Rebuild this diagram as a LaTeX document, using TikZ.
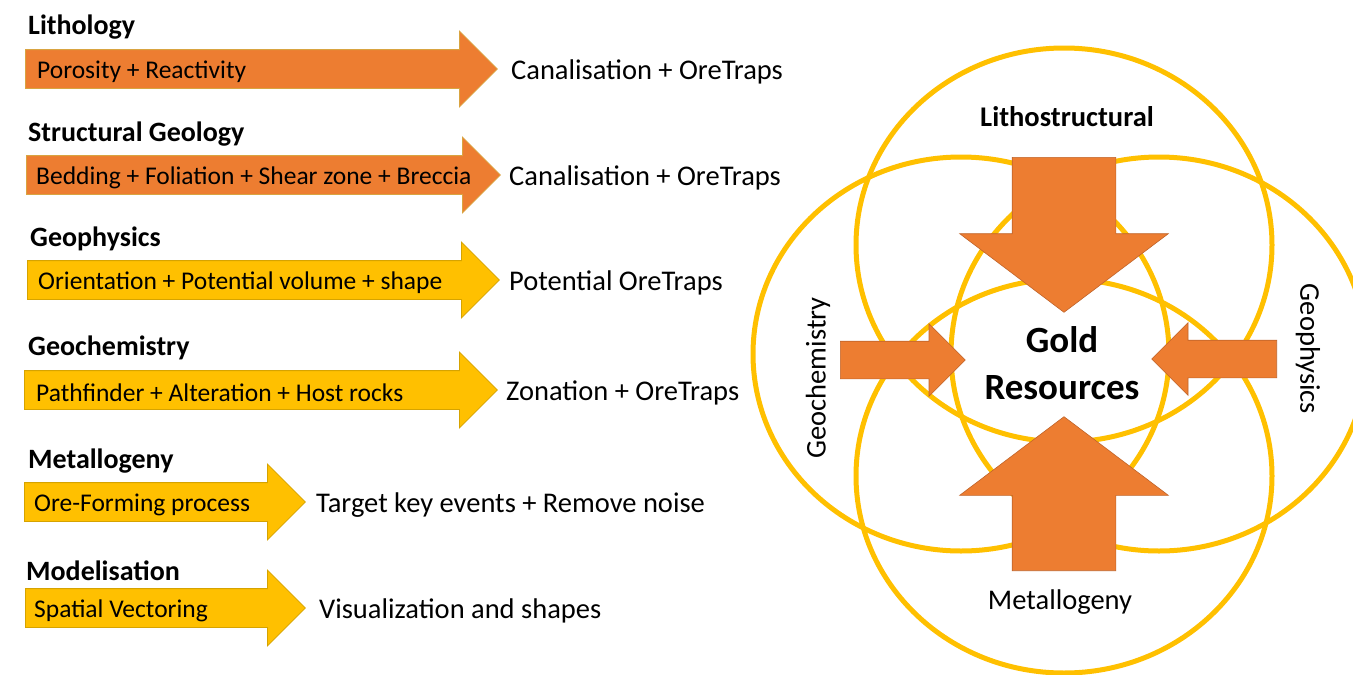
\documentclass[tikz,border=0pt]{standalone}
\usepackage{fontspec}
\setmainfont{Carlito}
\usetikzlibrary{positioning}
\usetikzlibrary{shapes.arrows}
\usetikzlibrary{shapes.geometric}

\definecolor{oreorange}{HTML}{ED7D31}
\definecolor{oregold}{HTML}{FFC000}
\definecolor{orangeline}{HTML}{D9A441}
\definecolor{goldline}{HTML}{D6A300}
\definecolor{bigline}{HTML}{C0642A}

\tikzset{
	ring/.style = {ellipse, draw = oregold, line width = 5pt, minimum width = 416pt, minimum height = 394pt, inner sep = 0pt},
	flowarrow/.style = {single arrow, inner sep = 19pt, single arrow head extend = 18.5pt, minimum width = 75pt, line width = 0.8pt, anchor = tail},
	orangearrow/.style = {flowarrow, fill = oreorange, draw = orangeline},
	goldarrow/.style = {flowarrow, fill = oregold, draw = goldline},
	bigarrow/.style = {single arrow, fill = oreorange, draw = bigline, line width = 0.6pt, anchor = tail},
	topic/.style = {anchor = west, inner sep = 0pt, font = \fontsize{28}{30}\selectfont\bfseries},
	inarrow/.style = {anchor = west, inner sep = 0pt, yshift = -3pt, font = \fontsize{25.5}{28}\selectfont},
	outcome/.style = {anchor = west, inner sep = 0pt, yshift = -3pt, font = \fontsize{28.5}{30}\selectfont},
	fieldlabel/.style = {inner sep = 0pt, font = \fontsize{28.5}{30}\selectfont}
}

\begin{document}
\begin{tikzpicture}[x = 1pt, y = -1pt]
	\fill [white] (0, 0) rectangle (1353, 675);
	\useasboundingbox (0, 0) rectangle (1353, 675);

	% left column
	\node [topic] (t1) at (28, 27) {Lithology};
	\node [orangearrow, minimum height = 472pt] (a1) at (25, 69) {};
	\node [inarrow, right = 12pt of a1.tail] (p1) {Porosity + Reactivity};
	\node [outcome, right = 13pt of a1.tip] (r1) {Canalisation + OreTraps};

	\node [topic] (t2) at (28, 134) {Structural Geology};
	\node [orangearrow, minimum height = 474pt] (a2) at (26, 175) {};
	\node [inarrow, right = 10pt of a2.tail] (p2) {Bedding + Foliation + Shear zone + Breccia};
	\node [outcome, right = 8pt of a2.tip] (r2) {Canalisation + OreTraps};

	\node [topic] (t3) at (30, 239) {Geophysics};
	\node [goldarrow, minimum height = 472pt] (a3) at (27, 280) {};
	\node [inarrow, right = 11pt of a3.tail] (p3) {Orientation + Potential volume + shape};
	\node [outcome, right = 9pt of a3.tip] (r3) {Potential OreTraps};

	\node [topic] (t4) at (28, 348) {Geochemistry};
	\node [goldarrow, minimum height = 473pt] (a4) at (24, 390) {};
	\node [inarrow, right = 12pt of a4.tail] (p4) {Pathfinder + Alteration + Host rocks};
	\node [outcome, right = 8pt of a4.tip] (r4) {Zonation + OreTraps};

	\node [topic] (t5) at (28, 461) {Metallogeny};
	\node [goldarrow, minimum height = 281pt] (a5) at (24, 502) {};
	\node [inarrow, right = 10pt of a5.tail] (p5) {Ore-Forming process};
	\node [outcome, right = 10pt of a5.tip] (r5) {Target key events + Remove noise};

	\node [topic] (t6) at (26, 571) {Modelisation};
	\node [goldarrow, minimum height = 280pt] (a6) at (25, 608) {};
	\node [inarrow, right = 9pt of a6.tail] (p6) {Spatial Vectoring};
	\node [outcome, right = 13pt of a6.tip] (r6) {Visualization and shapes};

	% right: four fields around the target
	\node [ring] (litho) at (1064, 245) {};
	\node [ring] (metal) at (1064, 476) {};
	\node [ring] (chem) at (961, 354) {};
	\node [ring] (phys) at (1159, 354) {};

	\node [bigarrow, inner sep = 51.5pt, shape border rotate = 270, minimum height = 155pt, minimum width = 208pt, single arrow head extend = 52.5pt, single arrow tip angle = 106] (down) at (1064, 157) {};
	\node [bigarrow, inner sep = 51.5pt, shape border rotate = 90, minimum height = 154pt, minimum width = 208pt, single arrow head extend = 52.5pt, single arrow tip angle = 106] (up) at (1064, 571) {};
	\node [bigarrow, inner sep = 18.5pt, minimum height = 125pt, minimum width = 72pt, single arrow head extend = 17.5pt] (east) at (840, 360) {};
	\node [bigarrow, inner sep = 18.5pt, shape border rotate = 180, minimum height = 125pt, minimum width = 72pt, single arrow head extend = 17.5pt] (west) at (1277, 359) {};

	\node [fieldlabel, font = \fontsize{28.5}{30}\selectfont\bfseries] (lithotext) at (1067, 117) {Lithostructural};
	\node [fieldlabel, rotate = 90] (chemtext) at (818, 378) {Geochemistry};
	\node [fieldlabel, rotate = -90] (phystext) at (1308, 349) {Geophysics};
	\node [fieldlabel] (metaltext) at (1060, 602) {Metallogeny};
	\node [align = center, inner sep = 0pt, font = \fontsize{37}{47}\selectfont\bfseries] (gold) at (1062, 363) {Gold\\Resources};
\end{tikzpicture}
\end{document}
